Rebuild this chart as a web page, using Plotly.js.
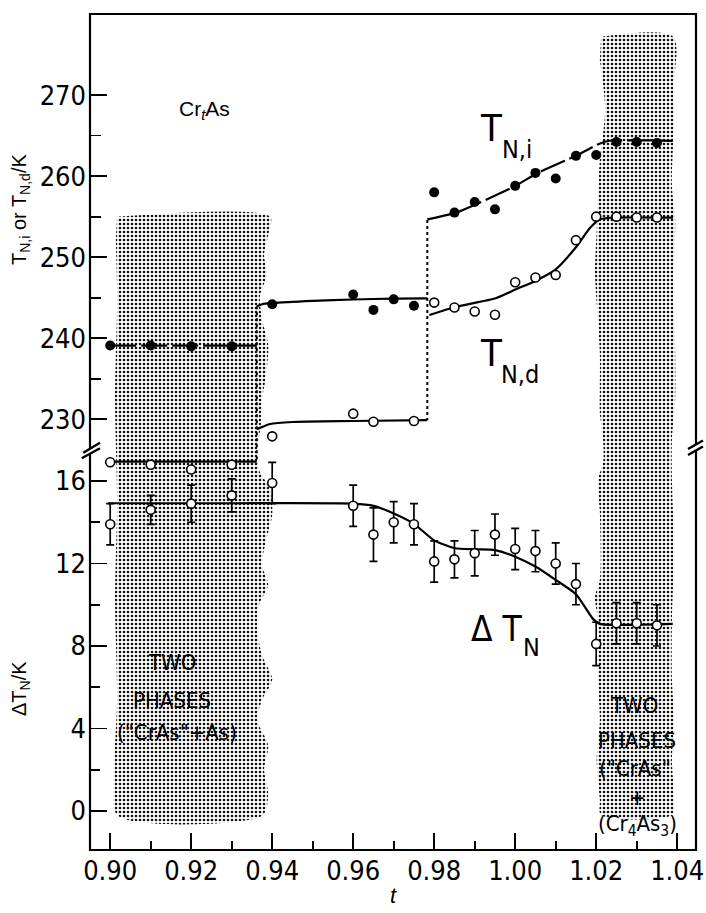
<!DOCTYPE html>
<html><head><meta charset="utf-8">
<script src="https://cdn.plot.ly/plotly-3.0.1.min.js"></script>
<style>html,body{margin:0;padding:0;background:#fff;} #chart{width:706px;height:913px;}</style>
</head><body><div id="chart"></div>
<script>
// ---------------- data ----------------
// composition t
const tNi = [0.90,0.91,0.92,0.93,0.94,0.96,0.965,0.97,0.975,0.98,0.985,0.99,0.995,1.00,1.005,1.01,1.015,1.02,1.025,1.03,1.035];
const TNi = [239.1,239.1,239.0,239.0,244.2,245.4,243.5,244.8,244.0,258.0,255.5,256.8,255.9,258.8,260.4,259.7,262.5,262.6,264.2,264.2,264.1];
const tNd = [0.90,0.91,0.92,0.93,0.94,0.96,0.965,0.975,0.98,0.985,0.99,0.995,1.00,1.005,1.01,1.015,1.02,1.025,1.03,1.035];
const TNd = [224.7,224.4,223.8,224.4,227.9,230.7,229.7,229.8,244.4,243.8,243.3,242.9,246.9,247.5,247.8,252.1,255.0,255.0,254.9,254.9];
const tDT = [0.90,0.91,0.92,0.93,0.94,0.96,0.965,0.97,0.975,0.98,0.985,0.99,0.995,1.00,1.005,1.01,1.015,1.02,1.025,1.03,1.035];
const DT  = [13.9,14.6,14.9,15.3,15.9,14.8,13.4,14.0,13.9,12.1,12.2,12.5,13.4,12.7,12.6,12.0,11.0,8.1,9.1,9.1,9.0];
const DTerr = [1.0,0.7,0.9,0.8,1.0,1.0,1.3,1.0,1.0,1.0,0.9,1.1,1.0,1.0,1.0,1.0,1.0,1.05,1.0,1.0,1.0];

// drawn guide curves
const fitNi1_t = [0.90, 0.9362];
const fitNi1   = [239.08, 239.08];
const fitNi2_t = [0.9362, 0.9375, 0.94, 0.95, 0.96, 0.97, 0.9783];
const fitNi2   = [243.95, 244.2, 244.33, 244.6, 244.78, 244.9, 244.93];
const fitNi3_t = [0.9783, 0.9853, 0.9902, 1.0001, 1.0052, 1.0154, 1.0208, 1.0233, 1.0389];
const fitNi3   = [254.67, 255.48, 256.5, 258.81, 260.3, 262.6, 264.0, 264.36, 264.36];
const fitNd1_t = [0.90, 0.9362];
const fitNd1   = [224.77, 224.77];
const fitNd2_t = [0.9362, 0.9395, 0.945, 0.96, 0.9783];
const fitNd2   = [228.77, 229.42, 229.67, 229.79, 229.9];
const fitNd3_t = [0.9788, 0.9854, 0.9952, 1.0002, 1.0051, 1.0100, 1.0151, 1.0184, 1.0209, 1.0242, 1.0390];
const fitNd3   = [242.87, 243.89, 244.93, 246.04, 247.1, 248.5, 251.29, 253.56, 254.67, 254.87, 254.87];
const trans1_t = [0.9362, 0.9362];
const trans1   = [243.95, 224.77];
const trans2_t = [0.9783, 0.9783];
const trans2   = [254.6, 229.9];
const fitDT_t = [0.8995, 0.93, 0.96, 0.965, 0.9703, 0.975, 0.98, 0.9851, 0.9901, 0.995, 1.0, 1.0051, 1.0098, 1.015, 1.0193, 1.0209, 1.0389];
const fitDT   = [14.92, 14.92, 14.9, 14.79, 14.4, 13.92, 13.12, 12.74, 12.69, 12.65, 12.33, 11.84, 11.23, 10.51, 9.29, 9.07, 9.07];

// two-phase regions (outline in t and in T-axis units)
const shadeL_t = [0.9017,0.9395,0.9390,0.9380,0.9387,0.9370,0.9375,0.9390,0.9385,0.9375,0.9372,0.9363,0.9367,0.9395,0.9400,0.9385,0.9375,0.9390,0.9367,0.9363,0.9375,0.9400,0.9375,0.9363,0.9390,0.9380,0.9390,0.9375,0.9019,0.9009,0.9017,0.9012,0.9017,0.9012,0.9017,0.9014];
const shadeL_v = [255.0,255.0,252.7,250.3,247.8,245.3,242.3,239.2,235.5,232.4,229.3,226.2,223.8,221.3,218.2,215.1,212.0,209.6,207.1,204.0,200.9,197.9,195.4,192.9,189.8,186.8,183.7,181.1,181.1,185.5,195.4,207.7,220.1,232.4,244.7,252.1];
const shadeR_t = [1.0212,1.0390,1.0390,1.0392,1.0387,1.0395,1.0390,1.0395,1.0395,1.0387,1.0387,1.0390,1.0390,1.0387,1.0387,1.0392,1.0387,1.0392,1.0387,1.0212,1.0209,1.0201,1.0209,1.0204,1.0204,1.0197,1.0209,1.0209,1.0204,1.0217,1.0217,1.0209,1.0209,1.0209,1.0204,1.0197,1.0201,1.0204,1.0209,1.0222,1.0209];
const shadeR_v = [277.2,277.2,270.6,266.9,258.7,254.6,246.3,238.6,232.4,227.5,222.5,217.6,210.2,205.3,197.9,192.9,188.0,183.1,181.2,181.2,183.1,188.0,192.9,197.9,205.3,208.1,210.2,218.5,222.5,224.6,227.5,230.8,234.0,238.2,242.3,248.1,253.0,257.1,262.0,268.2,274.3];

// ticks
const xTickVals = [0.90,0.92,0.94,0.96,0.98,1.00,1.02,1.04];
const xTickText = ['0.90','0.92','0.94','0.96','0.98','1.00','1.02','1.04'];
const xMinorVals = [0.91,0.93,0.95,0.97,0.99,1.01,1.03];
const tTickVals = [230,240,250,260,270];
const tMinorVals = [235,245,255,265];
const dTickVals = [0,4,8,12,16];
const dMinorVals = [2,6,10,14];
const tRightVals = [230,235,240,245,250,255,260,265,270];
const dRightVals = [0,2,4,6,8,10,12,14,16];

// ---------------- layout helpers ----------------
const W = 706, H = 913, ML = 90, MR = 10, MT = 14, MB = 63;
const PW = W - ML - MR, PH = H - MT - MB;
const px = x => (x - ML) / PW;
const py = y => (H - MB - y) / PH;
const NARROW = '"Liberation Sans Narrow", "DejaVu Sans Condensed", "Arial Narrow", sans-serif';
const SANS = '"Liberation Sans", Arial, sans-serif';
const X_RANGE = [0.895012, 1.044642];
const T_RANGE = [176.87, 280.0];
const D_RANGE = [-1.891, 38.64];

const pattern = {shape: '.', size: 4, solidity: 0.34, fgcolor: '#111111', bgcolor: '#ffffff', fillmode: 'replace'};
const shadeTrace = (xs, ys) => ({
  x: xs, y: ys, xaxis: 'x', yaxis: 'y', mode: 'lines', fill: 'toself',
  fillcolor: '#ffffff', fillpattern: pattern,
  line: {width: 0, color: 'rgba(0,0,0,0)', shape: 'spline', smoothing: 0.8},
  hoverinfo: 'skip', showlegend: false
});
const lineTrace = (xs, ys, yax, dash, shape) => ({
  x: xs, y: ys, xaxis: 'x', yaxis: yax, mode: 'lines',
  line: {color: '#000', width: 2.2, dash: dash || 'solid', shape: shape || 'spline', smoothing: 0.6},
  hoverinfo: 'skip', showlegend: false
});
const LDASH = '26px,5px';

const traces = [
  shadeTrace(shadeL_t, shadeL_v),
  shadeTrace(shadeR_t, shadeR_v),
  lineTrace(fitNi1_t, fitNi1, 'y', LDASH, 'linear'),
  lineTrace(fitNi2_t, fitNi2, 'y'),
  lineTrace(fitNi3_t, fitNi3, 'y', LDASH),
  lineTrace(fitNd1_t, fitNd1, 'y', 'solid', 'linear'),
  lineTrace(fitNd2_t, fitNd2, 'y'),
  lineTrace(fitNd3_t, fitNd3, 'y'),
  {x: trans1_t, y: trans1, xaxis: 'x', yaxis: 'y', mode: 'lines', line: {color: '#000', width: 2, dash: 'dot'}, hoverinfo: 'skip', showlegend: false},
  {x: trans2_t, y: trans2, xaxis: 'x', yaxis: 'y', mode: 'lines', line: {color: '#000', width: 2, dash: 'dot'}, hoverinfo: 'skip', showlegend: false},
  lineTrace(fitDT_t, fitDT, 'y2'),
  {x: tDT, y: DT, xaxis: 'x', yaxis: 'y2', mode: 'markers',
   marker: {size: 1, color: 'rgba(0,0,0,0)'},
   error_y: {type: 'data', array: DTerr, visible: true, thickness: 1.7, width: 4, color: '#000'},
   hoverinfo: 'skip', showlegend: false},
  {x: tDT, y: DT, xaxis: 'x', yaxis: 'y2', mode: 'markers', name: 'ΔT_N',
   marker: {symbol: 'circle', size: 9, color: '#fff', line: {color: '#000', width: 1.6}}, showlegend: false},
  {x: tNd, y: TNd, xaxis: 'x', yaxis: 'y', mode: 'markers', name: 'T_N,d',
   marker: {symbol: 'circle', size: 9, color: '#fff', line: {color: '#000', width: 1.6}}, showlegend: false},
  {x: tNi, y: TNi, xaxis: 'x', yaxis: 'y', mode: 'markers', name: 'T_N,i',
   marker: {symbol: 'circle', size: 10, color: '#000', line: {color: '#000', width: 0}}, showlegend: false}
];

const tickFont = {family: NARROW, size: 27, color: '#000'};
const baseAx = {showgrid: false, zeroline: false, showline: false, tickcolor: '#000', tickwidth: 1.7, ticks: 'inside', fixedrange: true};

const layout = {
  width: W, height: H,
  margin: {l: ML, r: MR, t: MT, b: MB, pad: 0},
  paper_bgcolor: '#fff', plot_bgcolor: '#fff',
  showlegend: false,
  xaxis: Object.assign({}, baseAx, {
    range: X_RANGE, anchor: 'y', tickmode: 'array', tickvals: xTickVals, ticktext: xTickText,
    ticklen: 17, tickfont: tickFont, ticklabelstandoff: 2,
    minor: {tickmode: 'array', tickvals: xMinorVals, ticks: 'inside', ticklen: 9, tickwidth: 1.7, tickcolor: '#000'},
    title: {text: '<i>t</i>', font: {family: SANS, size: 22, color: '#000'}, standoff: 2}
  }),
  xaxis2: Object.assign({}, baseAx, {
    range: X_RANGE, overlaying: 'x', side: 'top', anchor: 'y',
    tickmode: 'linear', tick0: 0.90, dtick: 0.01, ticklen: 10, showticklabels: false
  }),
  yaxis: Object.assign({}, baseAx, {
    range: T_RANGE, anchor: 'x', side: 'left', tickmode: 'array', tickvals: tTickVals,
    ticklen: 17, tickfont: tickFont, ticklabelstandoff: 3,
    minor: {tickmode: 'array', tickvals: tMinorVals, ticks: 'inside', ticklen: 11, tickwidth: 1.7, tickcolor: '#000'}
  }),
  yaxis2: Object.assign({}, baseAx, {
    range: D_RANGE, anchor: 'x', side: 'left', overlaying: 'y', tickmode: 'array', tickvals: dTickVals,
    ticklen: 17, tickfont: tickFont, ticklabelstandoff: 3,
    minor: {tickmode: 'array', tickvals: dMinorVals, ticks: 'inside', ticklen: 10, tickwidth: 1.7, tickcolor: '#000'}
  }),
  yaxis3: Object.assign({}, baseAx, {
    range: T_RANGE, anchor: 'x', side: 'right', overlaying: 'y', tickmode: 'array', tickvals: tRightVals,
    ticklen: 14, showticklabels: false
  }),
  yaxis4: Object.assign({}, baseAx, {
    range: D_RANGE, anchor: 'x', side: 'right', overlaying: 'y', tickmode: 'array', tickvals: dRightVals,
    ticklen: 13, showticklabels: false
  }),
  shapes: [
    {type: 'rect', xref: 'paper', yref: 'paper', x0: 0, x1: 1, y0: 0, y1: 1, line: {color: '#000', width: 2.2}, layer: 'above'},
    // axis breaks
    {type: 'path', xref: 'paper', yref: 'paper', layer: 'above', line: {width: 0}, fillcolor: '#fff',
     path: `M ${px(81.7)} ${py(458.3)} L ${px(100)} ${py(448.3)} L ${px(100)} ${py(442.7)} L ${px(83.3)} ${py(452.7)} Z`},
    {type: 'line', xref: 'paper', yref: 'paper', layer: 'above', x0: px(81.7), y0: py(458.3), x1: px(100), y1: py(448.3), line: {color: '#000', width: 2.4}},
    {type: 'line', xref: 'paper', yref: 'paper', layer: 'above', x0: px(83.3), y0: py(452.7), x1: px(100), y1: py(442.7), line: {color: '#000', width: 2.4}},
    {type: 'path', xref: 'paper', yref: 'paper', layer: 'above', line: {width: 0}, fillcolor: '#fff',
     path: `M ${px(688)} ${py(455)} L ${px(703)} ${py(446.5)} L ${px(703)} ${py(440.5)} L ${px(688)} ${py(449)} Z`},
    {type: 'line', xref: 'paper', yref: 'paper', layer: 'above', x0: px(688), y0: py(455), x1: px(703), y1: py(446.5), line: {color: '#000', width: 2.4}},
    {type: 'line', xref: 'paper', yref: 'paper', layer: 'above', x0: px(688), y0: py(449), x1: px(703), y1: py(440.5), line: {color: '#000', width: 2.4}}
  ],
  annotations: [
    {text: 'Cr<sub><i>t</i></sub>As', x: px(177), y: py(110), xanchor: 'left', yanchor: 'middle', font: {family: SANS, size: 21, color: '#000'}},
    {text: 'T', x: px(491), y: py(128), xanchor: 'center', yanchor: 'middle', font: {family: NARROW, size: 38, color: '#000'}},
    {text: 'N,i', x: px(500), y: py(149), xanchor: 'left', yanchor: 'middle', font: {family: NARROW, size: 25, color: '#000'}},
    {text: 'T', x: px(491), y: py(353), xanchor: 'center', yanchor: 'middle', font: {family: NARROW, size: 38, color: '#000'}},
    {text: 'N,d', x: px(499), y: py(374), xanchor: 'left', yanchor: 'middle', font: {family: NARROW, size: 25, color: '#000'}},
    {text: 'Δ T', x: px(469), y: py(629), xanchor: 'left', yanchor: 'middle', font: {family: NARROW, size: 35, color: '#000'}},
    {text: 'N', x: px(521), y: py(647), xanchor: 'left', yanchor: 'middle', font: {family: NARROW, size: 25, color: '#000'}},
    {text: 'TWO', x: px(172), y: py(662), xanchor: 'center', yanchor: 'middle', font: {family: NARROW, size: 22, color: '#000'}},
    {text: 'PHASES', x: px(172), y: py(700), xanchor: 'center', yanchor: 'middle', font: {family: NARROW, size: 22, color: '#000'}},
    {text: '("CrAs"+As)', x: px(177), y: py(732), xanchor: 'center', yanchor: 'middle', font: {family: NARROW, size: 22, color: '#000'}},
    {text: 'TWO', x: px(634), y: py(705), xanchor: 'center', yanchor: 'middle', font: {family: NARROW, size: 22, color: '#000'}},
    {text: 'PHASES', x: px(637), y: py(740), xanchor: 'center', yanchor: 'middle', font: {family: NARROW, size: 22, color: '#000'}},
    {text: '("CrAs"', x: px(635), y: py(768), xanchor: 'center', yanchor: 'middle', font: {family: NARROW, size: 22, color: '#000'}},
    {text: '+', x: px(637), y: py(797), xanchor: 'center', yanchor: 'middle', font: {family: NARROW, size: 22, color: '#000'}},
    {text: '(Cr<sub>4</sub>As<sub>3</sub>)', x: px(637), y: py(825), xanchor: 'center', yanchor: 'middle', font: {family: NARROW, size: 22, color: '#000'}},
    {text: 'T<sub>N,i</sub> or T<sub>N,d</sub>/K', x: px(20), y: py(210), xanchor: 'center', yanchor: 'middle', textangle: -90, font: {family: SANS, size: 20, color: '#000'}},
    {text: 'ΔT<sub>N</sub>/K', x: px(20), y: py(689), xanchor: 'center', yanchor: 'middle', textangle: -90, font: {family: SANS, size: 20, color: '#000'}}
  ].map(a => Object.assign({xref: 'paper', yref: 'paper', showarrow: false}, a))
};

Plotly.newPlot('chart', traces, layout, {displayModeBar: false, staticPlot: true});
</script></body></html>
